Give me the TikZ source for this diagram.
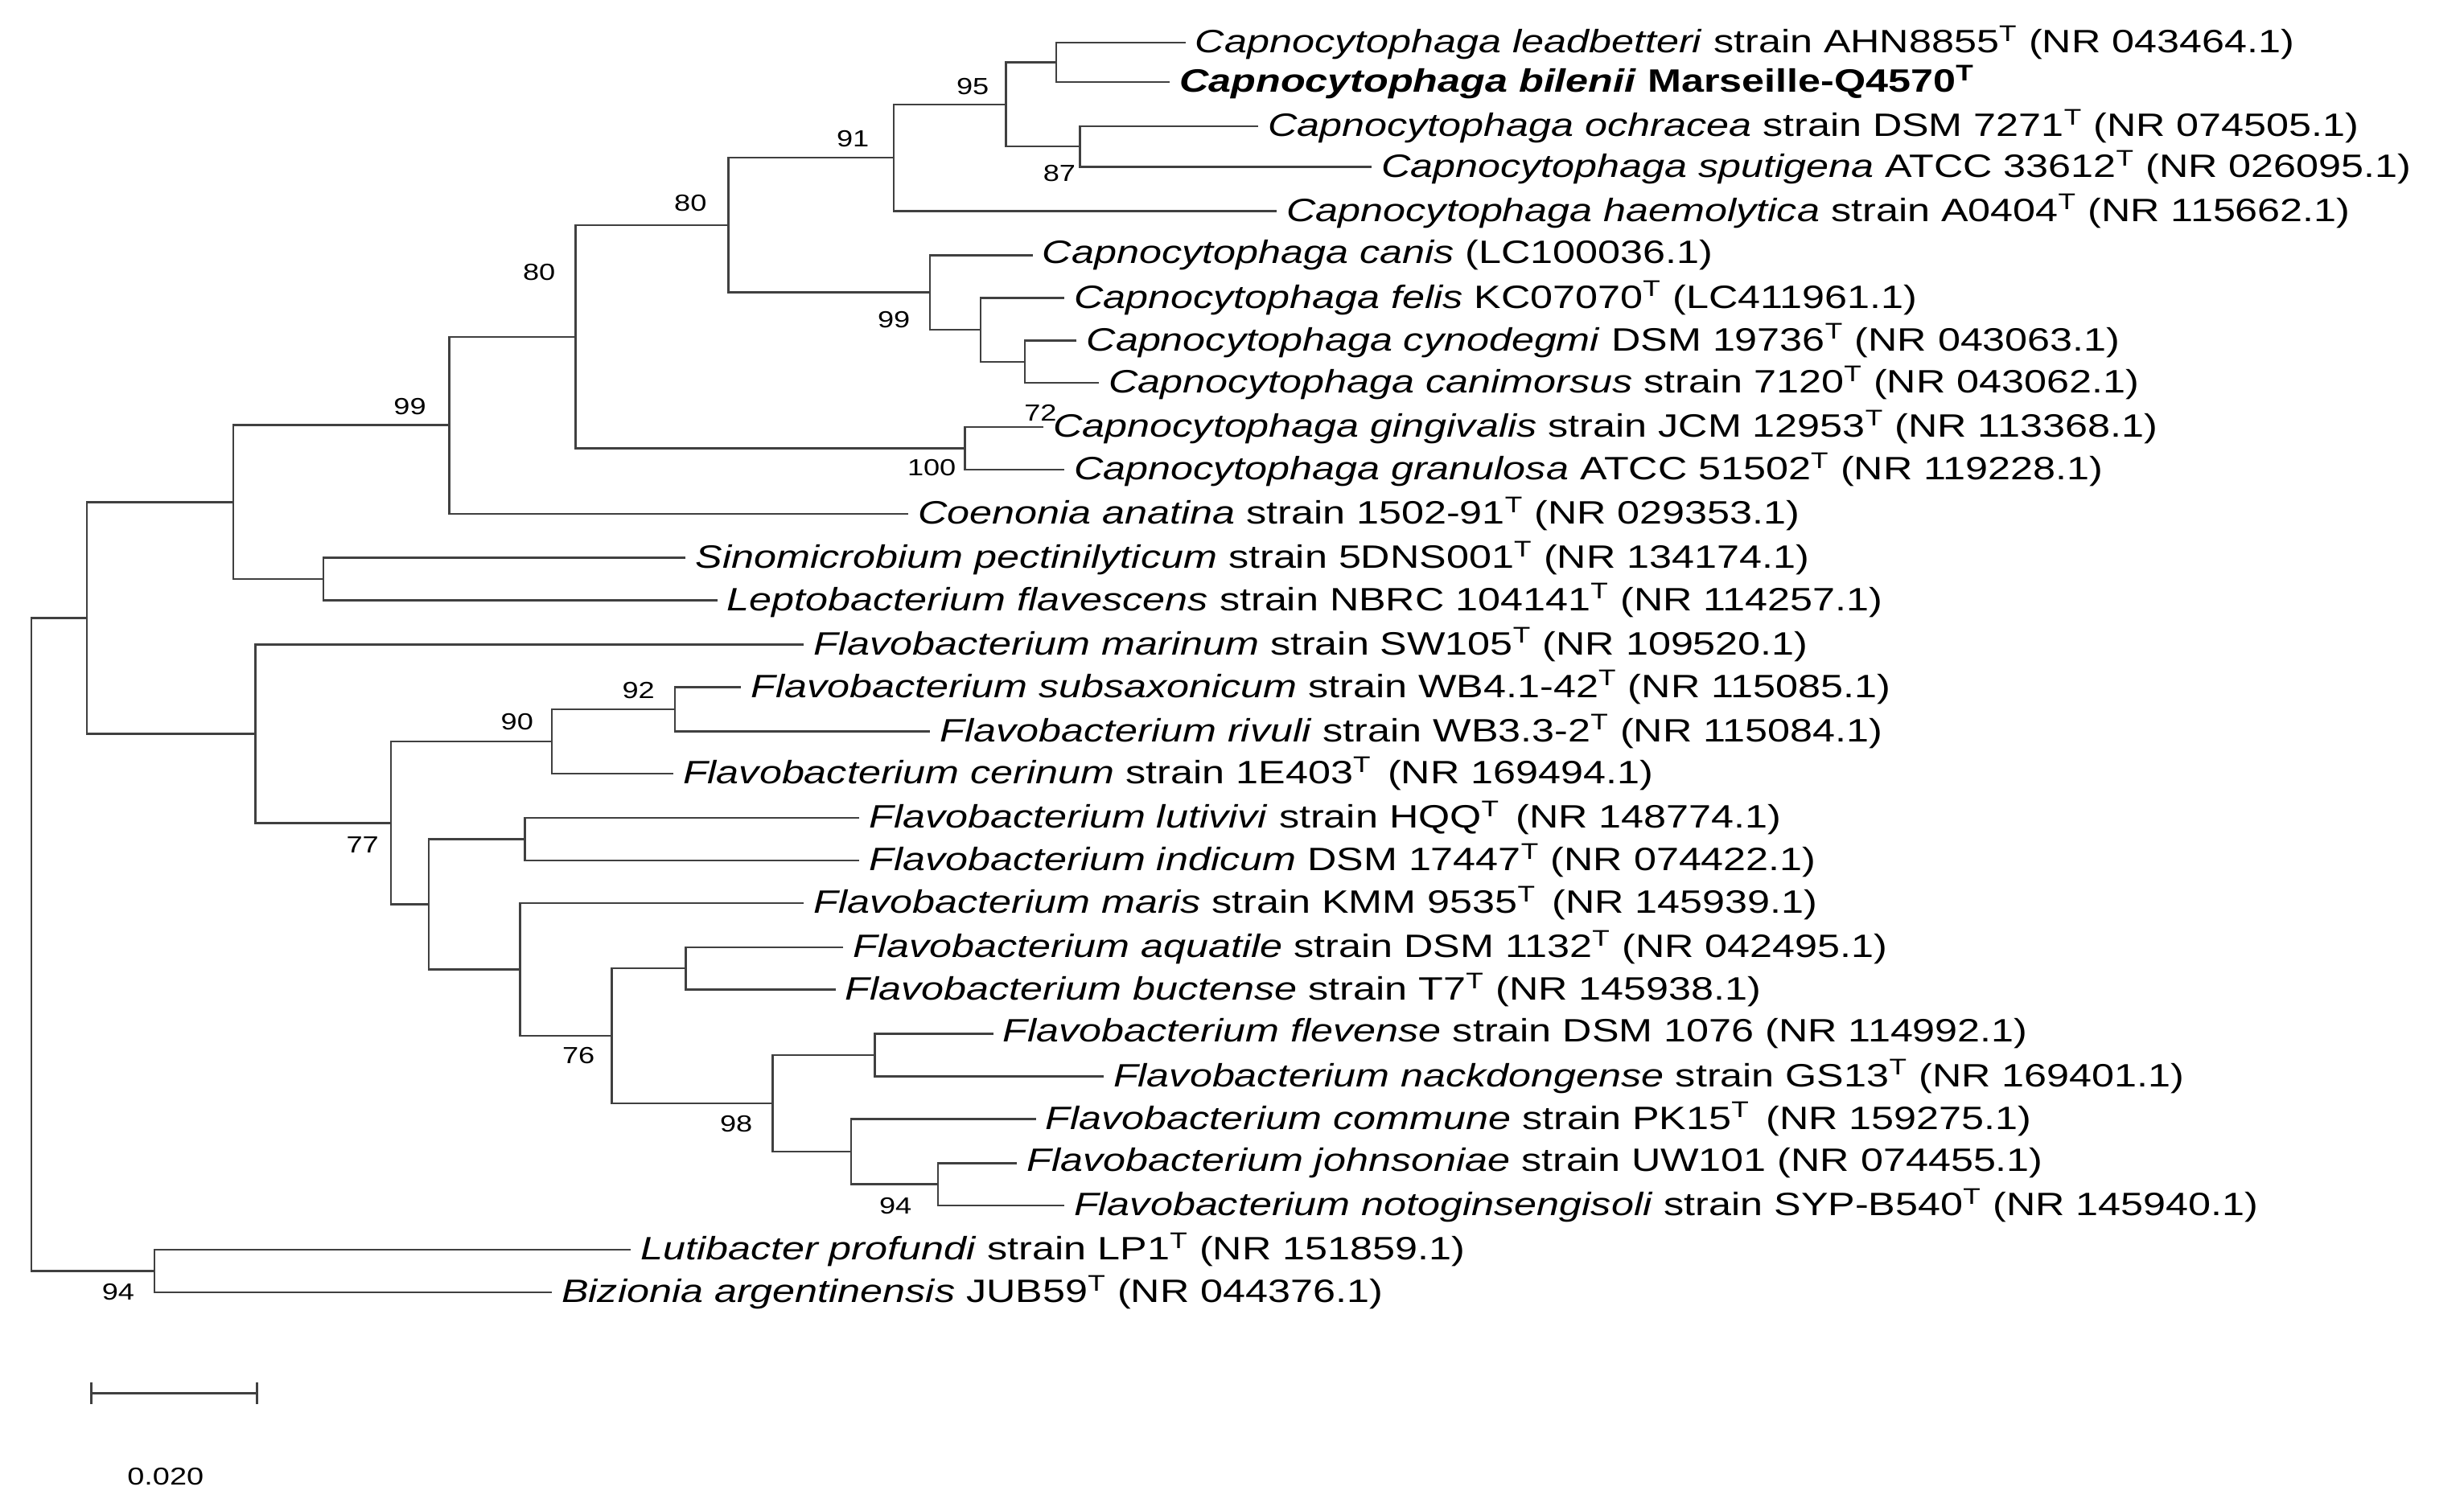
\documentclass[tikz,border=0pt]{standalone}
\usepackage{fontspec}
\setmainfont[FakeStretch=1.25]{Liberation Sans}
\begin{document}
\begin{tikzpicture}[x=0.025cm,y=-0.025cm,line width=0.9pt,draw=black!75,
  leaf/.style={anchor=west,inner sep=4pt,font=\fontsize{14.6}{16}\selectfont},
  bs/.style={font=\fontsize{10.5}{12}\selectfont,inner sep=1pt}]
\useasboundingbox (0,0) rectangle (1563,951);
\newcommand{\lf}[4]{\coordinate (#1) at (#2,#3); \node[leaf] (#1t) at (#1) {#4};}
\newcommand{\Ts}{\textsuperscript{T}}
\lf{l1}{752}{27}{\textit{Capnocytophaga leadbetteri} strain AHN8855\Ts{} (NR 043464.1)}
\lf{l2}{742}{52}{\textbf{\textit{Capnocytophaga bilenii} Marseille-Q4570\Ts}}
\lf{l3}{798}{80}{\textit{Capnocytophaga ochracea} strain DSM 7271\Ts{} (NR 074505.1)}
\lf{l4}{870}{106}{\textit{Capnocytophaga sputigena} ATCC 33612\Ts{} (NR 026095.1)}
\lf{l5}{810}{134}{\textit{Capnocytophaga haemolytica} strain A0404\Ts{} (NR 115662.1)}
\lf{l6}{655}{162}{\textit{Capnocytophaga canis} (LC100036.1)}
\lf{l7}{675}{189}{\textit{Capnocytophaga felis} KC07070\Ts{} (LC411961.1)}
\lf{l8}{683}{216}{\textit{Capnocytophaga cynodegmi} DSM 19736\Ts{} (NR 043063.1)}
\lf{l9}{697}{243}{\textit{Capnocytophaga canimorsus} strain 7120\Ts{} (NR 043062.1)}
\lf{l10}{662}{271}{\textit{Capnocytophaga gingivalis} strain JCM 12953\Ts{} (NR 113368.1)}
\lf{l11}{675}{298}{\textit{Capnocytophaga granulosa} ATCC 51502\Ts{} (NR 119228.1)}
\lf{l12}{576}{326}{\textit{Coenonia anatina} strain 1502-91\Ts{} (NR 029353.1)}
\lf{l13}{435}{354}{\textit{Sinomicrobium pectinilyticum} strain 5DNS001\Ts{} (NR 134174.1)}
\lf{l14}{455}{381}{\textit{Leptobacterium flavescens} strain NBRC 104141\Ts{} (NR 114257.1)}
\lf{l15}{510}{409}{\textit{Flavobacterium marinum} strain SW105\Ts{} (NR 109520.1)}
\lf{l16}{470}{436}{\textit{Flavobacterium subsaxonicum} strain WB4.1-42\Ts{} (NR 115085.1)}
\lf{l17}{590}{464}{\textit{Flavobacterium rivuli} strain WB3.3-2\Ts{} (NR 115084.1)}
\lf{l18}{427}{491}{\textit{Flavobacterium cerinum} strain 1E403\Ts{}\enspace(NR 169494.1)}
\lf{l19}{545}{519}{\textit{Flavobacterium lutivivi} strain HQQ\Ts{}\enspace(NR 148774.1)}
\lf{l20}{545}{546}{\textit{Flavobacterium indicum} DSM 17447\Ts{} (NR 074422.1)}
\lf{l21}{510}{573}{\textit{Flavobacterium maris} strain KMM 9535\Ts{}\enspace(NR 145939.1)}
\lf{l22}{535}{601}{\textit{Flavobacterium aquatile} strain DSM 1132\Ts{} (NR 042495.1)}
\lf{l23}{530}{628}{\textit{Flavobacterium buctense} strain T7\Ts{} (NR 145938.1)}
\lf{l24}{630}{656}{\textit{Flavobacterium flevense} strain DSM 1076 (NR 114992.1)}
\lf{l25}{700}{683}{\textit{Flavobacterium nackdongense} strain GS13\Ts{} (NR 169401.1)}
\lf{l26}{657}{710}{\textit{Flavobacterium commune} strain PK15\Ts{}\enspace(NR 159275.1)}
\lf{l27}{645}{738}{\textit{Flavobacterium johnsoniae} strain UW101 (NR 074455.1)}
\lf{l28}{675}{765}{\textit{Flavobacterium notoginsengisoli} strain SYP-B540\Ts{} (NR 145940.1)}
\lf{l29}{400}{793}{\textit{Lutibacter profundi} strain LP1\Ts{} (NR 151859.1)}
\lf{l30}{350}{820}{\textit{Bizionia argentinensis} JUB59\Ts{} (NR 044376.1)}
\newcommand{\br}[3]{\draw (#2) -| (#1) |- (#3);}
\coordinate (A) at (670,39.5); \br{A}{l1}{l2}
\coordinate (B) at (685,93); \br{B}{l3}{l4}
\coordinate (C) at (638,66.25); \br{C}{A}{B}
\coordinate (D) at (567,100.1); \br{D}{C}{l5}
\coordinate (E) at (650,229.5); \br{E}{l8}{l9}
\coordinate (F) at (622,209.25); \br{F}{l7}{E}
\coordinate (G) at (590,185.6); \br{G}{l6}{F}
\coordinate (H) at (462,142.9); \br{H}{D}{G}
\coordinate (I) at (612,284.5); \br{I}{l10}{l11}
\coordinate (J) at (365,213.7); \br{J}{H}{I}
\coordinate (K) at (285,269.8); \br{K}{J}{l12}
\coordinate (L) at (205,367.5); \br{L}{l13}{l14}
\coordinate (M) at (148,318.7); \br{M}{K}{L}
\coordinate (N) at (428,450); \br{N}{l16}{l17}
\coordinate (O) at (350,470.5); \br{O}{N}{l18}
\coordinate (P) at (333,532.5); \br{P}{l19}{l20}
\coordinate (Q) at (435,614.5); \br{Q}{l22}{l23}
\coordinate (R) at (595,751.5); \br{R}{l27}{l28}
\coordinate (S) at (540,730.8); \br{S}{l26}{R}
\coordinate (T) at (555,669.5); \br{T}{l24}{l25}
\coordinate (U) at (490,700.1); \br{U}{T}{S}
\coordinate (V) at (388,657.3); \br{V}{Q}{U}
\coordinate (W) at (330,615.2); \br{W}{l21}{V}
\coordinate (X) at (272,573.8); \br{X}{P}{W}
\coordinate (Y) at (248,522.2); \br{Y}{O}{X}
\coordinate (Z) at (162,465.6); \br{Z}{l15}{Y}
\coordinate (AA) at (55,392.2); \br{AA}{M}{Z}
\coordinate (BB) at (98,806.5); \br{BB}{l29}{l30}
\coordinate (R0) at (20,599.3); \br{R0}{AA}{BB}
\node[bs] at (617,55) {95};
\node[bs] at (672,110) {87};
\node[bs] at (541,88) {91};
\node[bs] at (438,129) {80};
\node[bs] at (567,203) {99};
\node[bs] at (660,262) {72};
\node[bs] at (591,297) {100};
\node[bs] at (342,173) {80};
\node[bs] at (260,258) {99};
\node[bs] at (405,438) {92};
\node[bs] at (328,458) {90};
\node[bs] at (230,536) {77};
\node[bs] at (367,670) {76};
\node[bs] at (467,713) {98};
\node[bs] at (568,765) {94};
\node[bs] at (75,820) {94};
\coordinate (s1) at (58,884); \coordinate (s2) at (163,884);
\draw (s1) -- (s2);
\draw ([yshift=5]s1) -- ([yshift=-5]s1);
\draw ([yshift=5]s2) -- ([yshift=-5]s2);
\node[bs,font=\fontsize{11}{13}\selectfont] (sl) at (105,937) {0.020};
\end{tikzpicture}
\end{document}
